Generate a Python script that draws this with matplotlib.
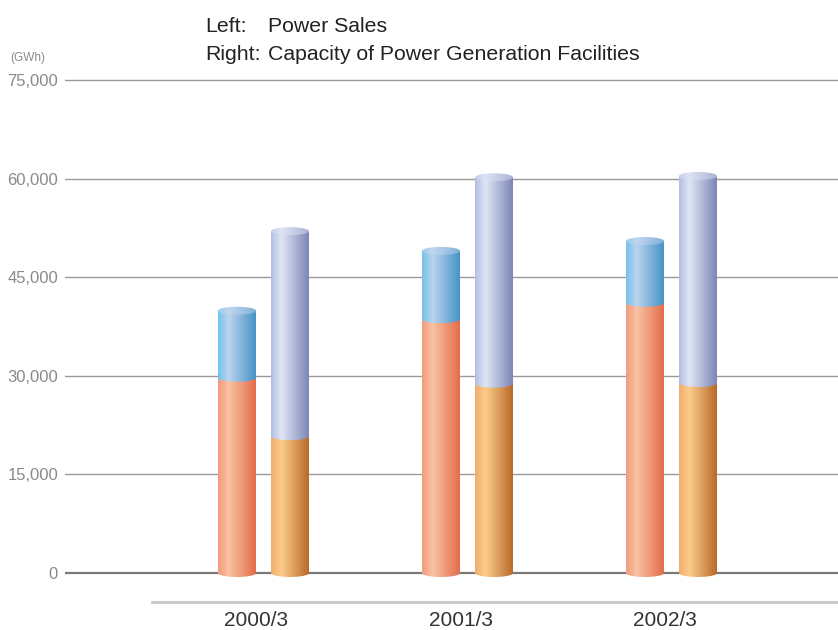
import numpy as np
import matplotlib
matplotlib.use("Agg")
import matplotlib.pyplot as plt
import matplotlib.transforms as mtransforms
from matplotlib.colors import LinearSegmentedColormap
from matplotlib.patches import PathPatch, Ellipse
from matplotlib.path import Path

plt.rcParams['font.family'] = ['Liberation Sans', 'DejaVu Sans']

# data (GWh)
years = ['2000/3', '2001/3', '2002/3']
sales_lower = [29700, 38600, 41100]
sales_upper = [10200, 10400, 9400]
capacity_lower = [20800, 28800, 28900]
capacity_upper = [31200, 31400, 31500]
yticks = [0, 15000, 30000, 45000, 60000, 75000]

# horizontal gradients for the cylinders
def make_cmap(name, left, light, right):
    return LinearSegmentedColormap.from_list(name, [(0, left), (0.28, light), (1, right)])

cm_sales_lo = make_cmap('slo', '#f29a7c', '#f9c3a2', '#e36c4c')
cm_sales_hi = make_cmap('shi', '#72c3ec', '#bcd3ee', '#4593c6')
cm_cap_lo = make_cmap('clo', '#efae6c', '#fbcb8c', '#b96a28')
cm_cap_hi = make_cmap('chi', '#b3bfe2', '#dfe6f5', '#7c86b6')
cm_sales_cap = make_cmap('scap', '#9ccbea', '#c2d6ee', '#7fb0d8')
cm_cap_cap = make_cmap('ccap', '#c5cfea', '#dde3f3', '#aab3d6')

grad = np.linspace(0, 1, 256).reshape(1, -1)

W, H = 838, 630
fig = plt.figure(figsize=(W / 100, H / 100), dpi=100)
# 0 sits at y=573px, 75,000 at y=80px
per_px = 75000 / 493
ax = fig.add_axes([65 / W, 28 / H, 773 / W, 532 / H])
ylo, yhi = -29 * per_px, 503 * per_px
xlo, xhi = (65 - 263.5) / 204, (838 - 263.5) / 204

bar_w = 38 / 204
offset = 26.5 / 204
eh = 4 * per_px  # half height of the ellipses


def segment(xc, y0, y1, cmap, z):
    x0, x1 = xc - bar_w / 2, xc + bar_w / 2
    t = np.linspace(np.pi, 2 * np.pi, 40)
    verts = [(x0, y1)] + list(zip(xc + bar_w / 2 * np.cos(t), y0 + eh * np.sin(t))) + [(x1, y1), (x0, y1)]
    codes = [Path.MOVETO] + [Path.LINETO] * (len(verts) - 2) + [Path.CLOSEPOLY]
    patch = PathPatch(Path(verts, codes), transform=ax.transData, facecolor='none', edgecolor='none')
    im = ax.imshow(grad, extent=(x0, x1, y0 - eh, y1), aspect='auto', cmap=cmap,
                   zorder=z, interpolation='bilinear')
    im.set_clip_path(patch)


def cap(xc, y, cmap, z):
    e = Ellipse((xc, y), bar_w, 2 * eh, transform=ax.transData, facecolor='none', edgecolor='none')
    im = ax.imshow(grad, extent=(xc - bar_w / 2, xc + bar_w / 2, y - eh, y + eh), aspect='auto',
                   cmap=cmap, zorder=z, interpolation='bilinear')
    im.set_clip_path(e)


for i in range(len(years)):
    xs = i - offset
    top = sales_lower[i] + sales_upper[i]
    segment(xs, 0, sales_lower[i], cm_sales_lo, 3)
    segment(xs, sales_lower[i], top, cm_sales_hi, 4)
    cap(xs, top, cm_sales_cap, 5)

    xc = i + offset
    top = capacity_lower[i] + capacity_upper[i]
    segment(xc, 0, capacity_lower[i], cm_cap_lo, 3)
    segment(xc, capacity_lower[i], top, cm_cap_hi, 4)
    cap(xc, top, cm_cap_cap, 5)

# grid lines
for v in yticks:
    if v == 0:
        ax.axhline(v, color='#7a7a7a', lw=1.6, zorder=2)
    else:
        ax.axhline(v, color='#9a9a9a', lw=1.0, zorder=1)
ax.axhline(ylo, xmin=(152 - 65) / 773, xmax=1, color='#c8c8c8', lw=2.0, zorder=1, clip_on=False)

ax.set_xlim(xlo, xhi)
ax.set_ylim(ylo, yhi)
ax.set_yticks(yticks)
ax.set_yticklabels([f'{v:,}' for v in yticks])
ax.set_xticks([])
ax.tick_params(axis='y', length=0, pad=5, labelcolor='#8a8a8a', labelsize=12)
for s in ax.spines.values():
    s.set_visible(False)
ax.patch.set_alpha(0)

# category labels sit a little left of the group centres
lab_tr = mtransforms.blended_transform_factory(ax.transData, fig.transFigure)
for i, yr in enumerate(years):
    ax.text(i - 7 / 204, 1 - 625.5 / H, yr, transform=lab_tr, ha='center', va='baseline',
            fontsize=15, color='#333333')

fig.text(10 / W, 1 - 61.5 / H, '(GWh)', fontsize=8.5, color='#8a8a8a', va='baseline', ha='left')
fig.text(205 / W, 1 - 32.5 / H, 'Left:', fontsize=15.3, color='#222222', va='baseline')
fig.text(268 / W, 1 - 32.5 / H, 'Power Sales', fontsize=15.3, color='#222222', va='baseline')
fig.text(205 / W, 1 - 60.5 / H, 'Right:', fontsize=15.3, color='#222222', va='baseline')
fig.text(268 / W, 1 - 60.5 / H, 'Capacity of Power Generation Facilities', fontsize=15.3,
         color='#222222', va='baseline')

fig.savefig('out.png', dpi=100, facecolor='white')
